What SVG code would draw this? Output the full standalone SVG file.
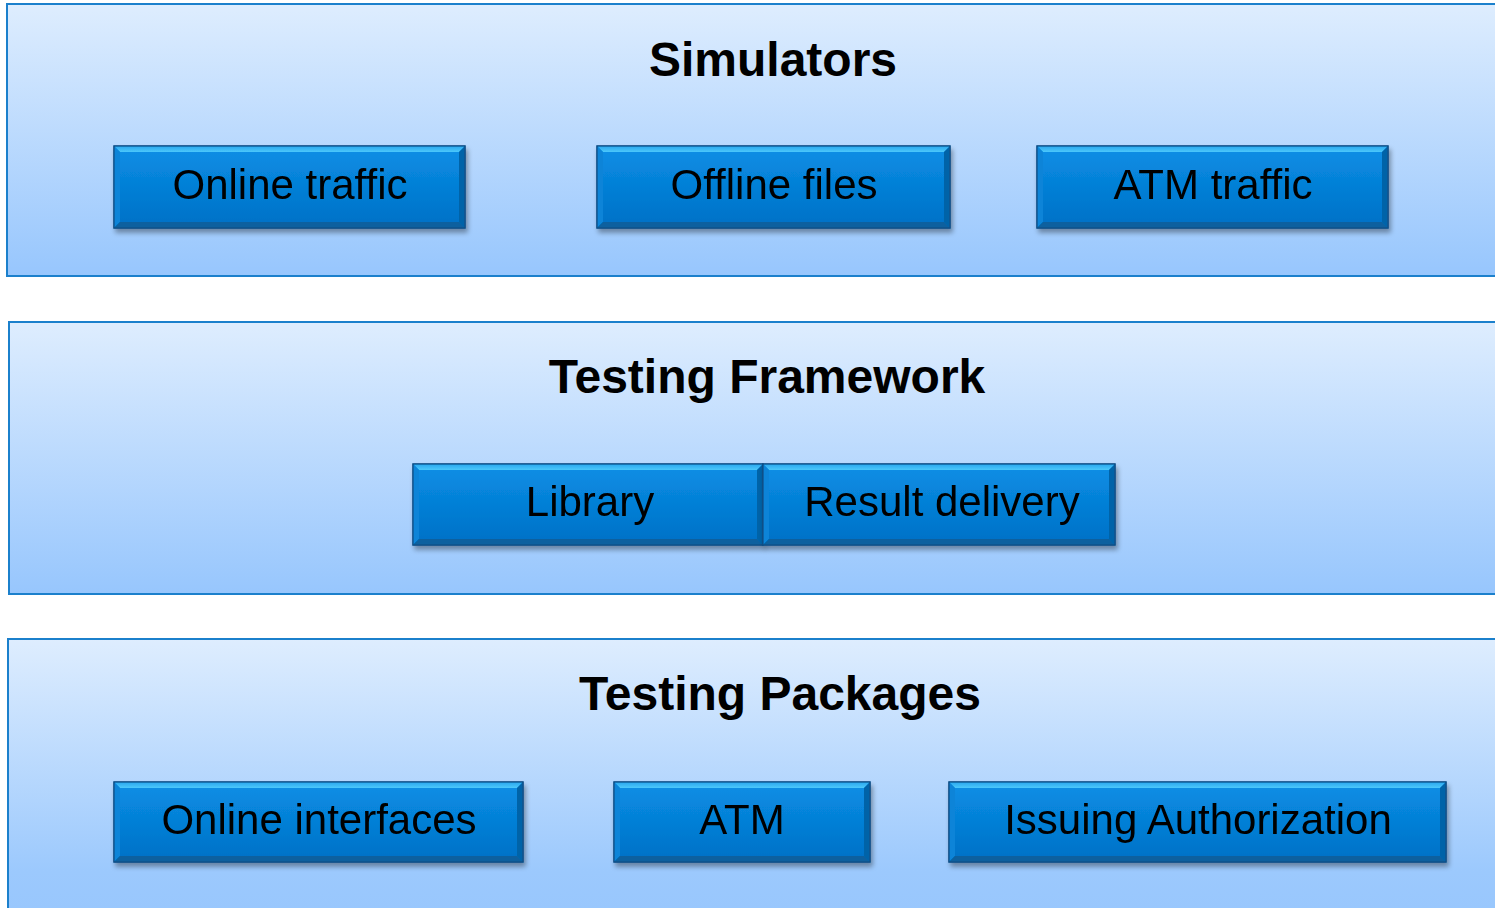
<svg xmlns="http://www.w3.org/2000/svg" width="1495" height="908" viewBox="0 0 1495 908">
<defs>
<linearGradient id="pg" x1="0" y1="0" x2="0" y2="1">
<stop offset="0" stop-color="#deedfe"/>
<stop offset="1" stop-color="#97c6fd"/>
</linearGradient>
<linearGradient id="pg3" x1="0" y1="0" x2="0" y2="1">
<stop offset="0" stop-color="#deedfe"/>
<stop offset="0.8" stop-color="#9cc9fd"/>
<stop offset="1" stop-color="#97c6fd"/>
</linearGradient>
<linearGradient id="bg" x1="0" y1="0" x2="0" y2="1">
<stop offset="0" stop-color="#0a8fe6"/>
<stop offset="1" stop-color="#0070c6"/>
</linearGradient>
<linearGradient id="tb" x1="0" y1="0" x2="0" y2="1">
<stop offset="0" stop-color="#2aa6ee"/>
<stop offset="1" stop-color="#4cc8fb"/>
</linearGradient>
<filter id="sh" x="-5%" y="-10%" width="110%" height="130%">
<feGaussianBlur in="SourceAlpha" stdDeviation="2.5"/>
<feOffset dx="2" dy="4"/>
<feComponentTransfer><feFuncA type="linear" slope="0.35"/></feComponentTransfer>
<feMerge><feMergeNode/><feMergeNode in="SourceGraphic"/></feMerge>
</filter>
</defs>
<style>
.panel{fill:url(#pg);stroke:#1b80cc;stroke-width:2}
.title{font-family:"Liberation Sans",Arial,sans-serif;font-weight:bold;font-size:48px;fill:#000;text-anchor:middle}
.lbl{font-family:"Liberation Sans",Arial,sans-serif;font-size:42px;fill:#000;text-anchor:middle}
.body{fill:url(#bg);stroke:#0b4f86;stroke-width:1.2}
.tb{fill:url(#tb)}
.lb{fill:#0a84d8}
.rb{fill:#0563a8}
.bb{fill:#07609f}
</style>

<g id="panel-simulators">
<rect class="panel" x="7" y="4" width="1500" height="272"/>
<text class="title" x="773" y="76">Simulators</text>
</g>
<g id="panel-framework">
<rect class="panel" x="9" y="322" width="1500" height="272"/>
<text class="title" x="767" y="393">Testing Framework</text>
</g>
<g id="panel-packages">
<rect class="panel" x="8" y="639" width="1500" height="290" style="fill:url(#pg3)"/>
<text class="title" x="780" y="710">Testing Packages</text>
</g>

<g id="btn-online-traffic" filter="url(#sh)">
<rect class="body" x="114" y="146" width="351" height="82"/>
<polygon class="tb" points="114,146 465,146 459,152 120,152"/>
<polygon class="lb" points="114,146 120,152 120,222 114,228"/>
<polygon class="rb" points="465,146 459,152 459,222 465,228"/>
<polygon class="bb" points="114,228 120,222 459,222 465,228"/>
<rect x="114" y="146" width="351" height="82" fill="none" stroke="#0b4f86" stroke-width="1.2"/>
<text class="lbl" x="290" y="199">Online traffic</text>
</g>
<g id="btn-offline-files" filter="url(#sh)">
<rect class="body" x="597" y="146" width="353" height="82"/>
<polygon class="tb" points="597,146 950,146 944,152 603,152"/>
<polygon class="lb" points="597,146 603,152 603,222 597,228"/>
<polygon class="rb" points="950,146 944,152 944,222 950,228"/>
<polygon class="bb" points="597,228 603,222 944,222 950,228"/>
<rect x="597" y="146" width="353" height="82" fill="none" stroke="#0b4f86" stroke-width="1.2"/>
<text class="lbl" x="774" y="199">Offline files</text>
</g>
<g id="btn-atm-traffic" filter="url(#sh)">
<rect class="body" x="1037" y="146" width="351" height="82"/>
<polygon class="tb" points="1037,146 1388,146 1382,152 1043,152"/>
<polygon class="lb" points="1037,146 1043,152 1043,222 1037,228"/>
<polygon class="rb" points="1388,146 1382,152 1382,222 1388,228"/>
<polygon class="bb" points="1037,228 1043,222 1382,222 1388,228"/>
<rect x="1037" y="146" width="351" height="82" fill="none" stroke="#0b4f86" stroke-width="1.2"/>
<text class="lbl" x="1213" y="199">ATM traffic</text>
</g>

<g id="btn-library" filter="url(#sh)">
<rect class="body" x="413" y="464" width="350" height="81"/>
<polygon class="tb" points="413,464 763,464 757,470 419,470"/>
<polygon class="lb" points="413,464 419,470 419,539 413,545"/>
<polygon class="rb" points="763,464 757,470 757,539 763,545"/>
<polygon class="bb" points="413,545 419,539 757,539 763,545"/>
<rect x="413" y="464" width="350" height="81" fill="none" stroke="#0b4f86" stroke-width="1.2"/>
<text class="lbl" x="590" y="516">Library</text>
</g>
<g id="btn-result-delivery" filter="url(#sh)">
<rect class="body" x="763" y="464" width="352" height="81"/>
<polygon class="tb" points="763,464 1115,464 1109,470 769,470"/>
<polygon class="lb" points="763,464 769,470 769,539 763,545"/>
<polygon class="rb" points="1115,464 1109,470 1109,539 1115,545"/>
<polygon class="bb" points="763,545 769,539 1109,539 1115,545"/>
<rect x="763" y="464" width="352" height="81" fill="none" stroke="#0b4f86" stroke-width="1.2"/>
<text class="lbl" x="942" y="516">Result delivery</text>
</g>

<g id="btn-online-interfaces" filter="url(#sh)">
<rect class="body" x="114" y="782" width="409" height="80"/>
<polygon class="tb" points="114,782 523,782 517,788 120,788"/>
<polygon class="lb" points="114,782 120,788 120,856 114,862"/>
<polygon class="rb" points="523,782 517,788 517,856 523,862"/>
<polygon class="bb" points="114,862 120,856 517,856 523,862"/>
<rect x="114" y="782" width="409" height="80" fill="none" stroke="#0b4f86" stroke-width="1.2"/>
<text class="lbl" x="319" y="834">Online interfaces</text>
</g>
<g id="btn-atm" filter="url(#sh)">
<rect class="body" x="614" y="782" width="256" height="80"/>
<polygon class="tb" points="614,782 870,782 864,788 620,788"/>
<polygon class="lb" points="614,782 620,788 620,856 614,862"/>
<polygon class="rb" points="870,782 864,788 864,856 870,862"/>
<polygon class="bb" points="614,862 620,856 864,856 870,862"/>
<rect x="614" y="782" width="256" height="80" fill="none" stroke="#0b4f86" stroke-width="1.2"/>
<text class="lbl" x="742" y="834">ATM</text>
</g>
<g id="btn-issuing-authorization" filter="url(#sh)">
<rect class="body" x="949" y="782" width="497" height="80"/>
<polygon class="tb" points="949,782 1446,782 1440,788 955,788"/>
<polygon class="lb" points="949,782 955,788 955,856 949,862"/>
<polygon class="rb" points="1446,782 1440,788 1440,856 1446,862"/>
<polygon class="bb" points="949,862 955,856 1440,856 1446,862"/>
<rect x="949" y="782" width="497" height="80" fill="none" stroke="#0b4f86" stroke-width="1.2"/>
<text class="lbl" x="1198" y="834">Issuing Authorization</text>
</g>

<g id="connectors"></g>
</svg>
